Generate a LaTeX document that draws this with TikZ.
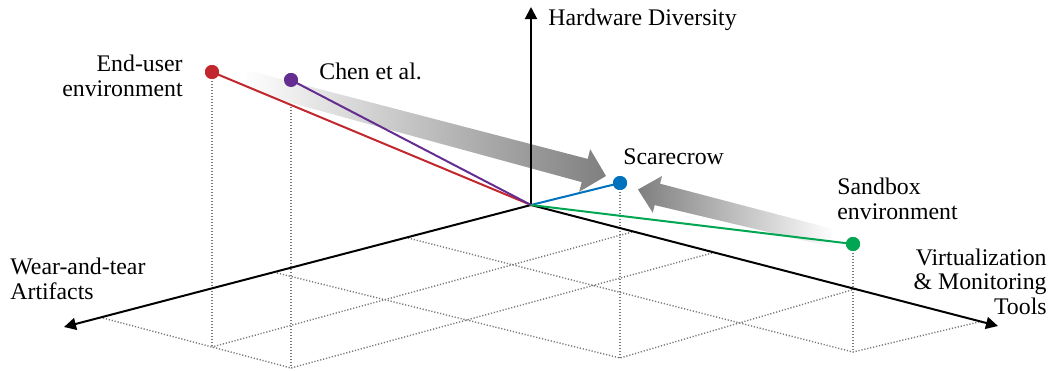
\documentclass[tikz,border=0pt]{standalone}
\usepackage{fontspec}
\setmainfont{Liberation Serif}
\newfontfamily\timesfont{Liberation Serif}[Ligatures=TeX]
\usetikzlibrary{arrows.meta}
\definecolor{cred}{HTML}{C1272D}
\definecolor{cpurple}{HTML}{662D91}
\definecolor{cblue}{HTML}{0071BC}
\definecolor{cgreen}{HTML}{00A651}
\definecolor{dotgray}{HTML}{7A7A7A}
\definecolor{arrgray}{HTML}{7F7F7F}
\begin{document}
\begin{tikzpicture}[x=0.5pt,y=-0.5pt,
  axis/.style={line width=1pt,-{Triangle[length=6pt,width=6pt]}},
  gridline/.style={dotgray,line width=0.7pt,dash pattern=on 0.6pt off 0.9pt},
  vec/.style={line width=1pt},
  pt/.style={circle,inner sep=0pt,minimum size=7pt},
  lbl/.style={font=\timesfont\fontsize{11.9}{12.2}\selectfont, inner sep=0pt}
]
\useasboundingbox (0,0) rectangle (1051,370);
% key coordinates
\coordinate (O) at (531,205);
\coordinate (Ztip) at (531,7);
\coordinate (Xtip) at (64,327);
\coordinate (Ytip) at (998,326);
\coordinate (Ef) at (212,347);
\coordinate (Cf) at (291,368);
\coordinate (Sf) at (620,358);
\coordinate (Bf) at (853,352);
\coordinate (L1) at (408,238);
\coordinate (L2) at (277,273);
\coordinate (L3) at (103,318);
\coordinate (R1) at (632,232);
\coordinate (R2) at (712,253);
\coordinate (R3) at (855,289);
\coordinate (R4) at (983,321);
% dots (positions)
\node[pt,fill=cred] (E) at (212,72) {};
\node[pt,fill=cpurple] (C) at (291,80) {};
\node[pt,fill=cblue] (S) at (620,183) {};
\node[pt,fill=cgreen] (B) at (853,244) {};
% floor grid
\draw[gridline] (L3) -- (Ef) -- (Cf);
\draw[gridline] (R1) -- (Ef);
\draw[gridline] (R2) -- (Cf);
\draw[gridline] (L2) -- (Sf) -- (R3);
\draw[gridline] (L1) -- (Bf) -- (R4);
\draw[gridline] (E.center) -- (Ef);
\draw[gridline] (C.center) -- (Cf);
\draw[gridline] (S.center) -- (Sf);
\draw[gridline] (B.center) -- (Bf);
% shaded arrows
\shade[left color=white, right color=arrgray]
  (247.5,70.3) -- (587.7,158.9) -- (590.2,149.2) -- (606,176) -- (579.2,191.8)
  -- (581.7,182.1) -- (242.5,89.7) -- cycle;
\shade[left color=arrgray, right color=white]
  (834.2,229.3) -- (660.1,183.7) -- (662.0,176.0) -- (638,189.5) -- (652.8,212.8)
  -- (654.7,205.1) -- (829.8,246.7) -- cycle;
% axes
\draw[axis] (O) -- (Ztip);
\draw[axis] (O) -- (Xtip);
\draw[axis] (O) -- (Ytip);
% vectors
\draw[vec,cred] (O) -- (E.center);
\draw[vec,cpurple] (O) -- (C.center);
\draw[vec,cblue] (O) -- (S.center);
\draw[vec,cgreen] (O) -- (B.center);
\node[pt,fill=cred] at (E) {};
\node[pt,fill=cpurple] at (C) {};
\node[pt,fill=cblue] at (S) {};
\node[pt,fill=cgreen] at (B) {};
% labels (base anchor = baseline of last line)
\node[lbl,anchor=base west] (lz) at (548,25) {Hardware Diversity};
\node[lbl,anchor=base east,align=right] (le) at (183,96) {End-user\\environment};
\node[lbl,anchor=base west] (lc) at (319,79) {Chen et al.};
\node[lbl,anchor=base west] (ls) at (623,164) {Scarecrow};
\node[lbl,anchor=base west,align=left] (lb) at (837,219) {Sandbox\\environment};
\node[lbl,anchor=base east,align=right] (ly) at (1047,314) {Virtualization\\\& Monitoring\\Tools};
\node[lbl,anchor=base west,align=left] (lx) at (10,299) {Wear-and-tear\\Artifacts};
\end{tikzpicture}
\end{document}
